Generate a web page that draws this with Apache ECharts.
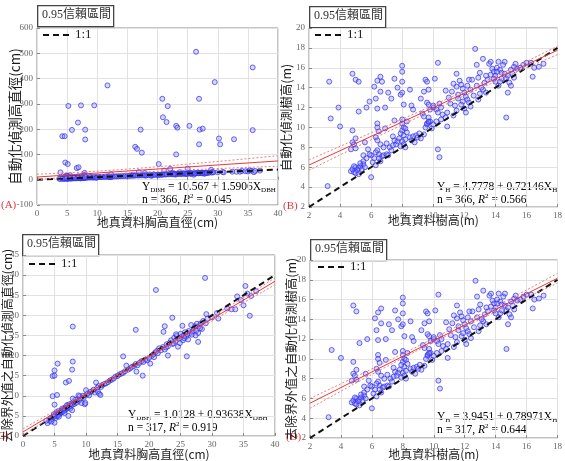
<!DOCTYPE html>
<html><head><meta charset="utf-8">
<script src="https://cdn.jsdelivr.net/npm/echarts@6/dist/echarts.min.js"></script>
<style>html,body{margin:0;padding:0;background:#fff}#c{width:565px;height:461px}</style>
</head><body><div id="c"></div>
<script>
// ---- Panel C data (outliers removed, DBH in cm) ----
const dbhClean = [
[28.9,39.3],[21.1,36.3],[7.9,27.2],[17.9,26.4],[5.5,18.0],[5.0,16.3],[4.7,14.9],[5.0,15.0],[7.9,18.5],[7.8,16.5],[6.8,13.3],[7.3,13.7],[4.7,9.9],[5.4,10.2],[5.0,7.8],[15.9,19.8],[23.7,29.4],[22.3,25.9],[22.5,27.3],[26.0,19.8],[23.0,20.0],[19.0,15.0],[18.0,16.0],
[3.9,3.2],[4.2,3.8],[4.4,4.5],[4.6,4.2],[4.8,4.8],[5.0,3.3],[5.1,5.0],[5.2,4.5],[5.4,4.9],[5.5,5.6],[5.6,5.2],[5.8,5.5],[5.9,6.0],[6.0,5.7],[6.1,6.3],[6.2,5.9],[6.3,6.6],[6.4,6.1],[6.5,6.9],[6.6,6.4],[6.7,7.1],[6.8,6.6],[6.9,7.3],[7.0,6.9],[7.1,7.6],[7.2,5.0],[7.3,7.2],[7.4,7.9],[7.5,6.8],[7.6,7.5],[7.7,8.1],[7.8,6.4],[7.9,7.8],[8.0,8.4],[8.2,8.0],[8.3,9.0],[8.5,8.3],[8.7,9.2],[8.9,8.8],[9.0,9.9],[9.2,9.3],[9.3,8.2],[9.5,10.0],[9.6,9.5],[9.8,7.9],[10.0,11.4],[10.1,10.3],[10.3,10.6],[10.5,10.1],[10.7,10.9],[10.9,11.1],[11.2,11.5],[11.4,10.8],[11.6,13.3],[11.8,12.0],[11.9,11.0],[12.1,10.5],[12.3,10.2],[12.0,12.4],[12.4,12.2],[12.6,12.7],[12.9,12.9],[13.2,13.1],[13.5,13.4],[13.8,13.8],[14.1,14.0],[14.4,14.3],[14.7,14.8],[15.0,14.9],[15.3,15.3],[15.6,15.5],[15.9,15.7],[16.2,16.1],[16.4,17.5],[16.7,16.5],[17.0,16.8],[17.3,17.2],[17.6,17.4],[17.9,17.9],[18.2,17.6],[18.5,18.2],[18.8,18.6],[19.1,18.4],[19.4,19.0],[19.7,18.8],[20.0,19.4],[20.2,18.0],[20.4,19.9],[20.7,20.3],[21.0,20.8],[21.3,21.2],[21.6,21.8],[21.9,21.3],[22.2,22.1],[22.5,21.5],[22.8,22.8],[23.0,22.3],[23.3,23.2],[23.5,23.8],[23.7,22.9],[24.0,24.4],[24.2,23.6],[24.4,24.9],[24.6,22.2],[24.8,24.2],[25.0,25.4],[25.1,24.6],[25.3,27.4],[25.4,23.8],[25.5,25.0],[25.7,25.8],[25.9,24.7],[26.1,25.3],[26.3,26.1],[26.5,25.6],[26.7,27.6],[26.9,26.0],[27.1,26.7],[27.3,27.3],[27.5,26.2],[27.6,27.9],[27.8,25.6],[27.8,23.4],[28.0,27.3],[28.2,28.0],[28.4,26.6],[28.1,26.8],[28.6,28.6],[29.1,30.3],[29.0,28.0],[29.3,29.2],[30.0,29.5],[30.8,30.6],[31.0,29.2],[32.4,31.7],[33.1,31.5],[33.7,31.5],[34.0,34.7],[34.6,33.8],[35.0,32.5],[35.3,37.3],[35.6,35.4],[36.0,29.9],[37.0,36.0],[36.2,34.8],
[3.7,3.8],[4.5,3.6],[5.3,5.9],[5.7,4.8],[6.6,5.7],[7.9,9.3],[8.8,10.1],[9.9,8.2],[24.3,25.3],[24.9,23.1],[25.6,24.3],[26.2,24.0],[26.8,25.2],[27.4,25.0],[23.9,23.0],[22.7,22.0],[21.4,20.6],[20.8,19.6],[6.2,6.8],[5.6,6.2],[7.0,7.7],[4.9,5.4]
];
// ---- extra outlier points present only in panel A ----
const dbhOutliers = [
[26.4,506],[35.8,444],[29.5,386],[11.7,373],[20.8,320],[26.9,320],[5.2,292],[7.3,294],[9.5,294],[21.7,291],[6.8,226],[20.9,247],[21.5,228],[5.8,197],[8.0,198],[8.0,159],[17.2,198],[23.1,213],[23.3,206],[25.3,213],[27.0,198],[27.5,202],[26.9,140],[30.2,163],[30.4,140],[32.7,160],[35.8,196],[4.2,172],[4.6,172],[16.3,130],[16.6,122],[17.4,107],[23.1,100],[4.7,68],[5.1,62],[6.6,46],[6.9,49],[20.2,62],[3.9,29],[22.1,43],[25.0,44],[16.9,30],[12.3,22]
];
// ---- Panel D data (outliers removed, height in m) ----
const htClean = [
[3.2,4.1],[3.4,10.9],[4.0,10.1],[4.8,15.4],[5.0,14.8],[5.2,11.6],[4.8,9.7],[4.8,8.5],[4.9,8.3],[5.0,8.9],[4.7,7.8],[5.0,7.9],
[4.7,5.6],[4.8,5.8],[4.9,5.5],[5.0,6.0],[5.1,5.7],[5.2,5.9],[5.3,6.1],[5.4,5.8],[5.5,6.3],[5.6,6.0],[4.9,6.1],[5.2,5.3],[5.0,5.4],[5.3,6.4],
[5.6,8.5],[5.7,12.0],[5.8,7.8],[5.5,7.2],[6.0,5.0],[6.2,14.1],[6.4,14.7],[6.6,15.1],[6.3,12.9],[6.4,11.9],[6.6,13.6],[6.9,12.0],[7.1,13.5],[7.3,12.9],
[6.4,10.4],[6.4,10.0],[6.5,9.6],[6.3,9.0],[6.4,8.7],[6.6,8.3],[6.4,7.7],[6.5,7.3],[6.3,7.5],[6.2,6.9],[6.6,6.6],[6.7,7.1],[6.8,7.2],[7.0,7.3],[6.8,8.0],[6.0,7.2],[6.1,6.5],[5.7,6.9],[5.9,7.3],[5.5,6.6],[6.3,6.2],[6.5,6.9],
[6.9,9.9],[7.0,8.4],[7.2,8.0],[7.3,7.7],[7.5,8.7],[7.6,8.3],[7.7,8.6],[7.8,8.9],[7.4,9.1],[7.5,10.7],[7.1,7.2],[7.4,8.2],
[7.5,14.9],[7.7,14.0],[7.9,13.3],[8.0,13.5],[8.0,16.2],[8.0,15.6],[8.0,14.6],[8.1,12.3],[8.0,10.4],[8.1,10.0],[8.0,9.7],[8.1,9.2],[8.2,8.8],[8.0,8.6],[8.1,8.3],[8.2,8.0],[7.9,9.4],[8.3,9.5],[8.3,10.6],[8.0,10.8],[8.2,9.9],[7.9,8.1],
[8.5,13.8],[8.6,12.2],[8.7,11.8],[8.5,9.0],[8.7,9.1],[8.9,9.2],[8.6,8.7],[9.0,9.0],[9.2,8.9],[8.8,8.5],[9.1,9.4],
[9.3,11.4],[9.4,11.1],[9.5,14.8],[9.6,14.6],[9.7,13.8],[9.6,12.5],[9.7,12.3],[9.8,11.8],[9.7,11.0],[9.7,10.5],[9.6,10.3],[9.8,10.6],[9.5,10.0],[9.4,9.3],[9.9,9.9],[9.6,10.4],[9.7,10.6],[9.2,12.9],[9.4,13.6],
[10.0,12.0],[10.1,14.9],[10.3,16.5],[10.3,7.8],[10.4,7.0],[10.0,12.2],[10.2,11.8],[10.4,12.4],[10.5,12.0],[10.3,11.5],[10.6,11.3],[10.5,10.8],[10.8,11.0],[10.9,11.5],[10.2,10.6],[10.0,10.3],
[10.8,13.7],[11.0,13.0],[11.2,13.6],[10.9,10.1],[11.4,12.2],[11.6,12.9],[11.5,11.7],[11.8,12.3],[11.5,14.1],[11.5,15.4],[11.3,11.2],[11.1,12.4],[11.6,13.3],[11.3,14.4],
[11.7,14.7],[11.8,14.3],[11.9,13.9],[12.0,13.5],[12.1,13.1],[12.2,12.8],[12.3,12.5],[12.0,11.9],[12.1,11.5],[12.3,14.8],[12.5,14.8],[12.4,13.8],[12.2,14.2],[12.6,13.2],[12.4,12.1],[11.9,12.6],
[12.7,17.9],[12.8,16.3],[12.9,15.0],[12.8,14.2],[13.0,13.4],[12.9,12.8],[13.0,15.5],[13.2,16.9],[13.2,13.8],[13.3,14.5],[13.4,15.2],[13.5,14.8],[13.6,16.4],[13.7,16.6],[13.1,14.0],[13.4,13.5],
[13.8,15.9],[13.9,15.6],[14.0,15.2],[14.1,16.0],[14.2,16.6],[14.3,15.8],[14.4,15.5],[14.5,16.3],[14.3,14.6],[14.2,14.2],[14.0,14.6],[13.9,14.9],[14.6,16.6],[13.7,15.3],[14.1,15.6],[14.4,14.9],
[14.7,11.0],[14.8,13.5],[14.6,15.4],[14.7,14.9],[14.8,15.2],[15.0,15.8],[15.2,16.1],[15.3,16.4],[15.4,15.9],[15.1,15.4],[14.9,14.5],[15.0,14.2],[15.2,15.0],
[15.6,16.0],[15.8,16.3],[16.0,16.5],[16.3,16.5],[16.4,15.1],[16.5,16.0],[16.8,16.1],[17.1,16.4]
];
// ---- extra points present only in panel B ----
const htOutliers = [[3.3,14.6],[3.9,12.0],[5.2,14.6],[5.9,12.6],[6.7,14.6]];

// 1:1 reference lines
const oneToOneDbh = [[0,0],[40,40]];
const oneToOneHt = [[2,2],[18,18]];
// regression lines and 0.95 confidence band
const fitA = [[0,10.6],[40,74.2]], upA = [[0,22],[15,42],[40,95]], loA = [[0,0],[15,27],[40,53]];
const fitB = [[2,6.22],[18,17.76]], upB = [[2,6.75],[11,12.95],[18,18.17]], loB = [[2,5.7],[11,12.47],[18,17.33]];
const fitC = [[0,1.01],[40,38.47]], upC = [[0,1.8],[16,16.3],[40,39.3]], loC = [[0,0.2],[16,15.7],[40,37.6]];
const fitD = [[2,5.52],[18,18.16]], upD = [[2,6.0],[10,12.09],[18,18.65]], loD = [[2,5.0],[10,11.69],[18,17.65]];

// axis ranges / tick steps
const axA = {x:[0,40,5], y:[-100,600,100]};
const axB = {x:[2,18,2], y:[2,20,2]};
const axC = {x:[0,40,5], y:[0,45,5]};
const axD = {x:[2,18,2], y:[2,20,2]};
const xNameDbh = '地真資料胸高直徑(cm)', xNameHt = '地真資料樹高(m)';
const yNames = ['自動化偵測高直徑(cm)','自動化偵測樹高(m)','去除界外值之自動化偵測高直徑(cm)','去除界外值之自動化偵測樹高(m)'];

const SERIF = 'Liberation Serif, Times New Roman, serif';
const CJK = '"Noto Sans CJK TC", "Noto Sans CJK SC", sans-serif';
const grids = [
  {left:37, top:28, width:241, height:177},
  {left:309, top:28, width:250, height:179},
  {left:21, top:255, width:254, height:182},
  {left:310, top:260, width:249, height:178}
];
const axes = [axA, axB, axC, axD];
const xNames = [xNameDbh, xNameHt, xNameDbh, xNameHt];
const xGaps = [17, 13, 18, 16];
const yGaps = [22, 23, 16, 19];
const ySizes = [13.5, 12.5, 12, 12.5];

const chart = echarts.init(document.getElementById('c'), null, {renderer:'canvas'});
const xAxis = [], yAxis = [];
axes.forEach((a,i)=>{
  const common = {
    type:'value', gridIndex:i, axisLine:{show:false},
    axisTick:{show:true, inside:true, length:3, lineStyle:{color:'#888'}},
    splitLine:{show:true, lineStyle:{color:'#e2e2e2', width:1}},
    axisLabel:{color:'#666', fontFamily:SERIF, fontSize:9, margin:4},
    nameLocation:'middle', nameMoveOverlap:false
  };
  xAxis.push(Object.assign({}, common, {min:a.x[0], max:a.x[1], interval:a.x[2], name:xNames[i], nameGap:xGaps[i],
    nameTextStyle:{fontFamily:CJK, fontSize:12, color:'#1a1a1a', verticalAlign:'middle'}}));
  yAxis.push(Object.assign({}, common, {min:a.y[0], max:a.y[1], interval:a.y[2], name:yNames[i], nameGap:yGaps[i],
    nameTextStyle:{fontFamily:CJK, fontSize:ySizes[i], color:'#1a1a1a', verticalAlign:'middle'}}));
});

const pointStyle = {color:'rgba(130,130,255,0.4)', borderColor:'#3030f0', borderWidth:0.9};
function scatter(i, data){ return {type:'scatter', xAxisIndex:i, yAxisIndex:i, data, symbolSize:5, itemStyle:pointStyle, silent:true, z:2}; }
function line(i, data, style, smooth){ return {type:'line', xAxisIndex:i, yAxisIndex:i, data, symbol:'none', smooth:!!smooth, lineStyle:style, silent:true, z:3}; }
const dash = {color:'#111', width:2, type:[6,4]};
const redSolid = {color:'#e8383a', width:1};
const redDot = {color:'#f07c7c', width:1, type:[2,2]};

const series = [
  scatter(0, dbhClean.concat(dbhOutliers)),
  scatter(1, htClean.concat(htOutliers)),
  scatter(2, dbhClean),
  scatter(3, htClean),
  line(0, oneToOneDbh, dash), line(0, fitA, redSolid), line(0, upA, redDot, true), line(0, loA, redDot, true),
  line(1, oneToOneHt, dash), line(1, fitB, redSolid), line(1, upB, redDot, true), line(1, loB, redDot, true),
  line(2, oneToOneDbh, dash), line(2, fitC, redSolid), line(2, upC, redDot, true), line(2, loC, redDot, true),
  line(3, oneToOneHt, dash), line(3, fitD, redSolid), line(3, upD, redDot, true), line(3, loD, redDot, true)
];

// annotation helpers
const rich = {
  a:{fontFamily:SERIF, fontSize:11.5, color:'#111'},
  s:{fontFamily:SERIF, fontSize:7, color:'#111', padding:[6,0,0,0]},
  i:{fontFamily:SERIF, fontSize:11.5, color:'#111', fontStyle:'italic'},
  p:{fontFamily:SERIF, fontSize:7, color:'#111', padding:[0,0,6,0]}
};
function eq(x, y, sub, a, b, n, r2){
  return [
    {type:'text', left:x, top:y, style:{text:'{a|Y}{s|'+sub+'}{a| = '+a+' + '+b+'X}{s|'+sub+'}', rich}},
    {type:'text', left:x, top:y+12, style:{text:'{a|n = '+n+', }{i|R}{p|2}{a| = '+r2+'}', rich}}
  ];
}
function ciBox(x, y){
  return [
    {type:'rect', left:x, top:y, shape:{width:76, height:21}, style:{fill:'#fff', stroke:'#444', lineWidth:1.3}},
    {type:'text', left:x+5, top:y+4, style:{text:'0.95信賴區間', font:'12px '+SERIF+', '+CJK, fill:'#333'}}
  ];
}
function oneLeg(x, y){
  return [
    {type:'line', shape:{x1:x, y1:y, x2:x+30, y2:y}, style:{stroke:'#111', lineWidth:2, lineDash:[6,4]}, z:10},
    {type:'text', left:x+32, top:y-7, style:{text:'1:1', font:'13px '+SERIF, fill:'#222'}, z:10}
  ];
}
function tag(x, y, t){ return {type:'text', left:x, top:y, style:{text:t, font:'11px '+SERIF, fill:'#e0393b'}}; }

const graphic = [].concat(
  ciBox(37,5), ciBox(309,6), ciBox(22,234), ciBox(310,239),
  oneLeg(43,35), oneLeg(315,35), oneLeg(29,264), oneLeg(318,267),
  eq(142,181,'DBH','10.567','1.5906','366','0.045'),
  eq(437,181,'H','4.7778','0.72146','366','0.566'),
  eq(128,409,'DBH','1.0128','0.93638','317','0.919'),
  eq(437,411,'H','3.9451','0.78971','317','0.644'),
  [tag(1,200,'(A)'), tag(283,201,'(B)'), tag(-6,431,'(C)'), tag(286,432,'(D)')]
);

chart.setOption({
  animation:false,
  backgroundColor:'#fff',
  grid: grids.map(g=>Object.assign({show:true, borderColor:'#8a8a8a', borderWidth:1, backgroundColor:'#fff'}, g)),
  xAxis, yAxis, series, graphic
});
</script></body></html>
